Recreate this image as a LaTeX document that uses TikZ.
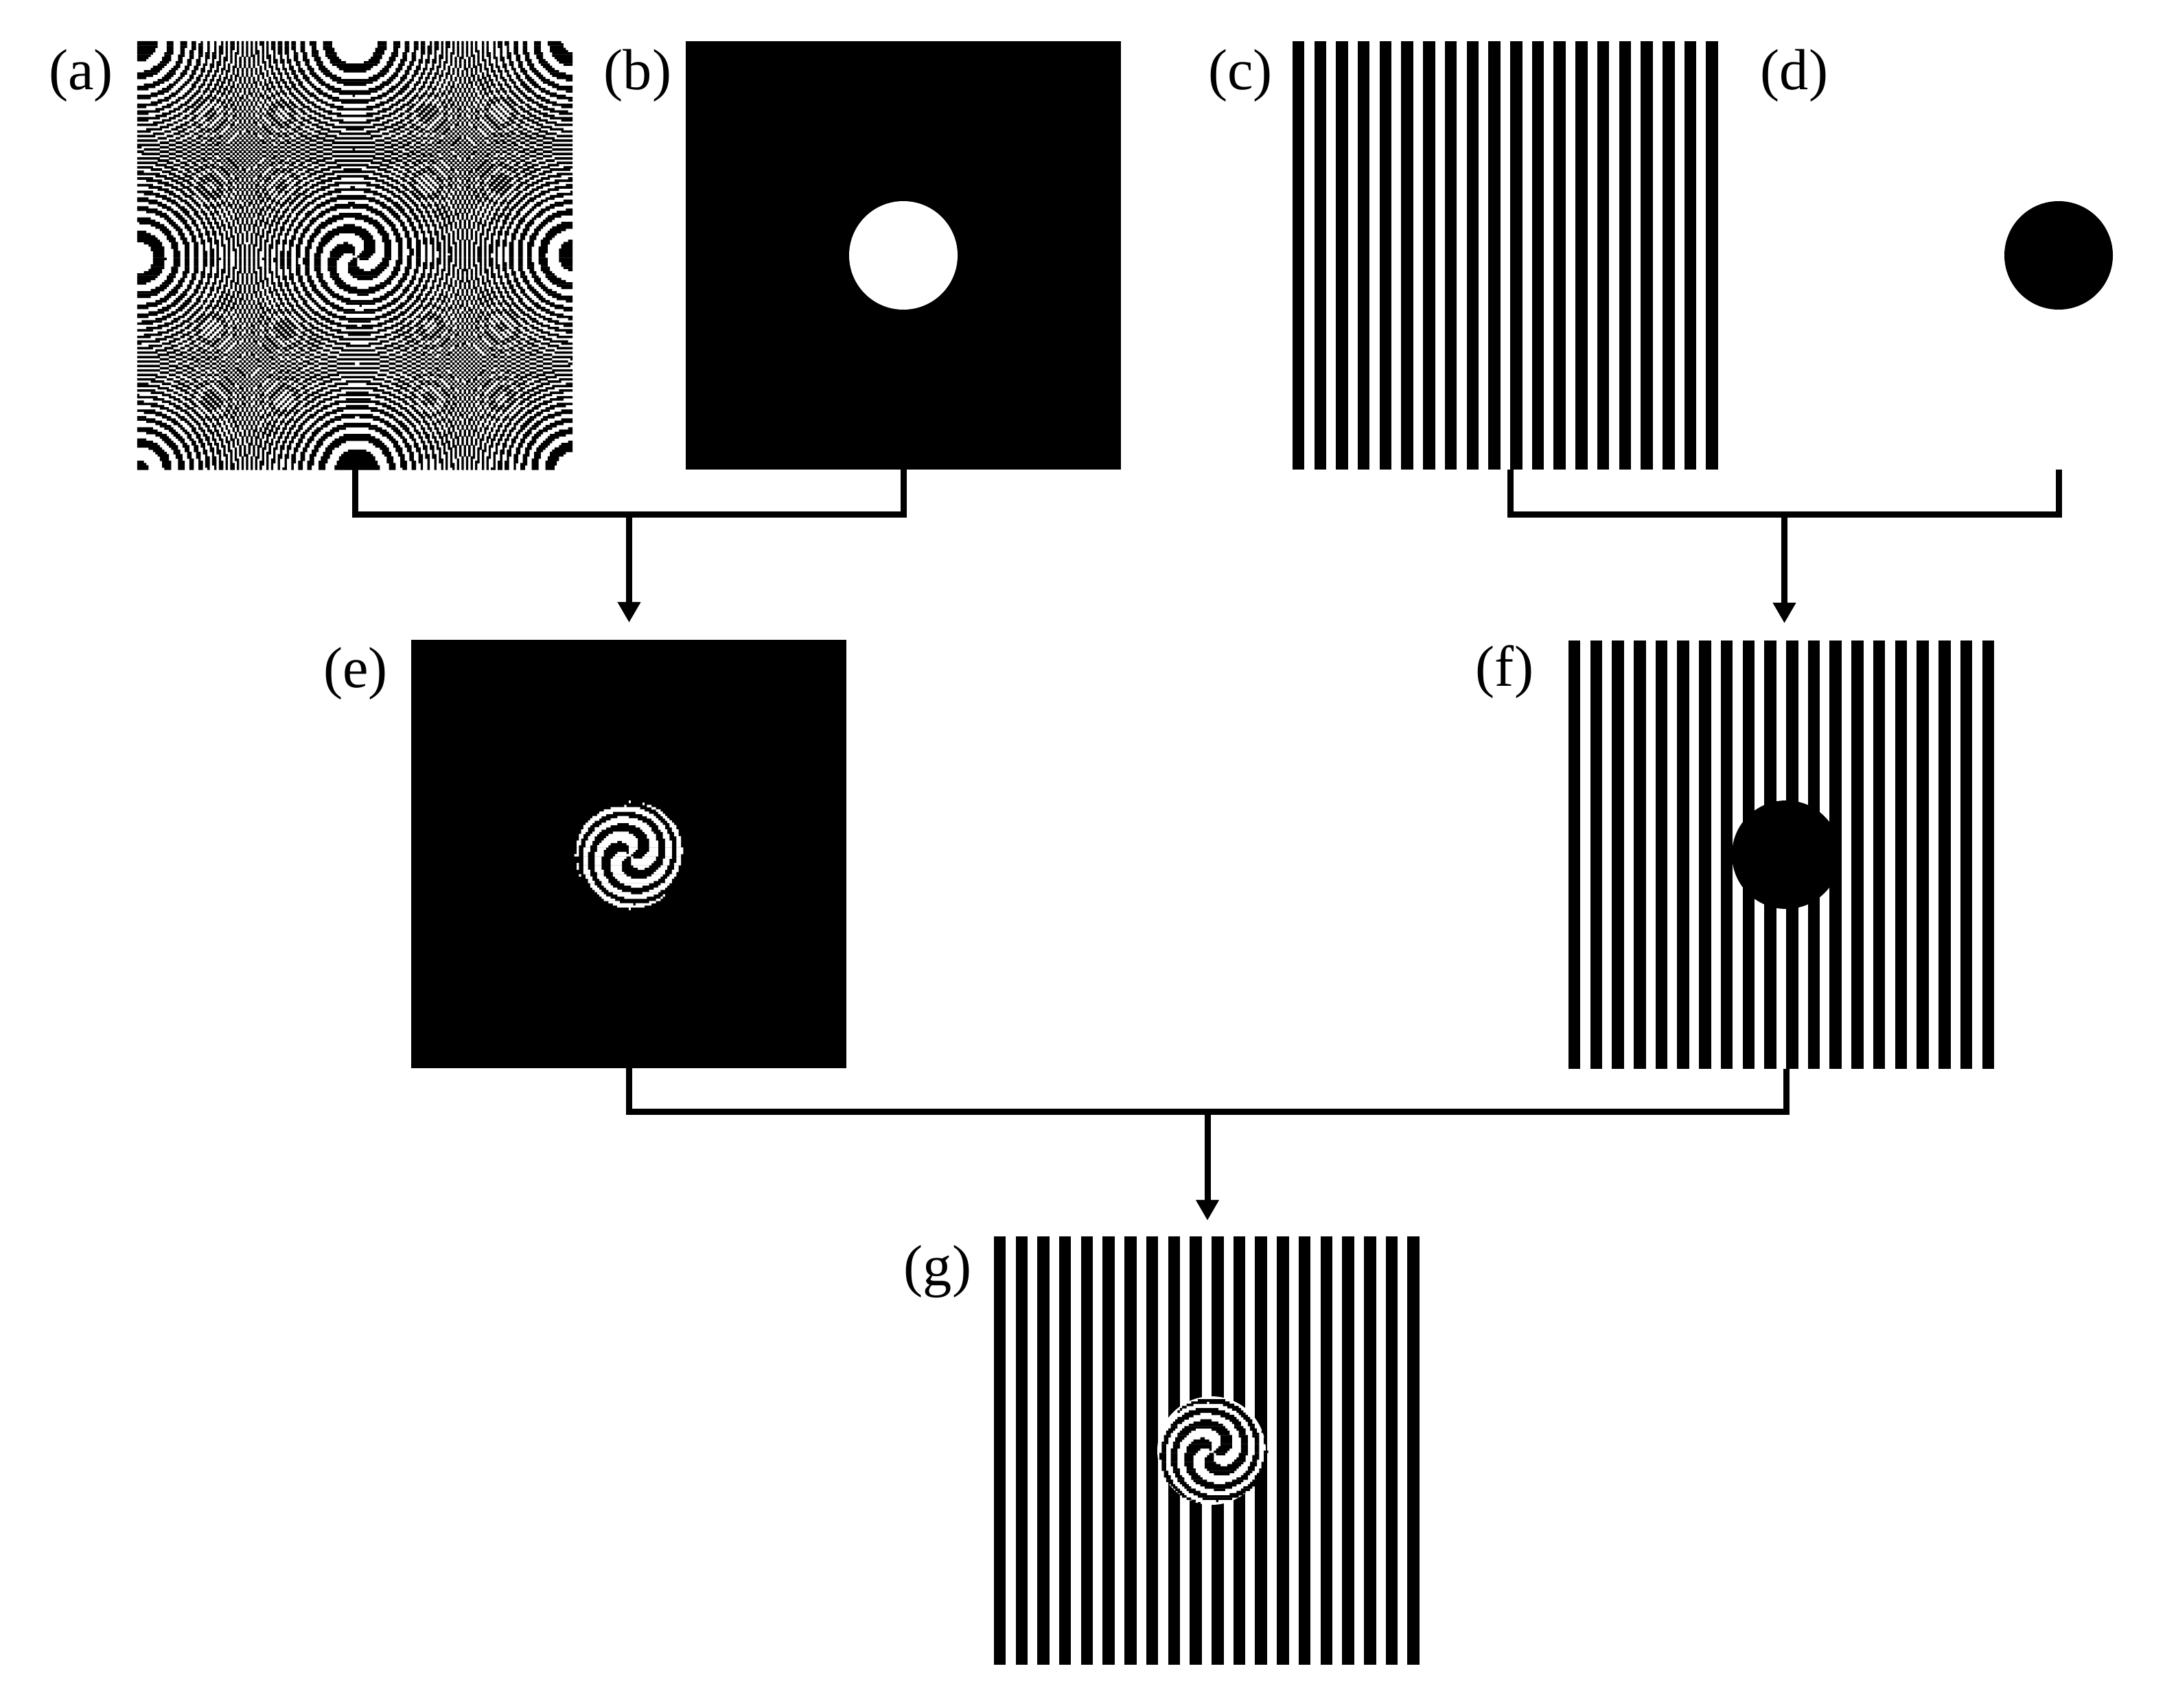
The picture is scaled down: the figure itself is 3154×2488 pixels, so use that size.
\documentclass[tikz,border=0pt]{standalone}
\usepackage{fontspec}
\setmainfont{Liberation Serif}
\usepackage{tikz}
\usetikzlibrary{arrows.meta,positioning,calc}

% binary spiral lens hologram, N x N cells
\newcount\hgi \newcount\hgj \newcount\hgu \newcount\hgv \newcount\hgvv
\newcount\hgq \newcount\hgm \newcount\hgre \newcount\hgim \newcount\hgval
\newcount\hgst \newcount\hgk \newcount\hgN \newcount\hgT
\newdimen\hgcw \newdimen\hgch
\newif\ifhgrun \newif\ifhgtgt
\hgN=192 \hgT=\numexpr4*\hgN\relax
\hgcw=\dimexpr6.34cm/\hgN\relax
\hgch=\dimexpr6.24cm/\hgN\relax
\def\hgoff{0}
\def\hgsgn{1}
\def\hgphase{0}
\def\hgrtwo{2000000}
\def\hgcmp{>0}

% cos/sin table of the lens phase
\pgfmathsetmacro\hgstep{360/\the\hgT}
\hgk=0
\loop
  \pgfmathsetcount\hgm{round(90*cos(\the\hgk*\hgstep+\hgphase))}%
  \expandafter\edef\csname hgc\the\hgk\endcsname{\the\hgm}%
  \pgfmathsetcount\hgm{round(90*sin(\the\hgk*\hgstep+\hgphase))}%
  \expandafter\edef\csname hgs\the\hgk\endcsname{\the\hgm}%
  \advance\hgk1
\ifnum\hgk<\hgT \repeat

\def\hgtest{%
  \hgu=\numexpr2*\hgi-\hgN+\hgoff\relax
  \hgq=\numexpr\hgu*\hgu+\hgvv\relax
  \hgtgtfalse
  \ifnum\hgq>\hgrtwo\relax\else
    \hgm=\numexpr\hgq-(\hgq/\hgT)*\hgT\relax
    \ifnum\hgm<0 \advance\hgm\hgT \fi
    \hgre=\numexpr(\hgu*\hgu-3*\hgvv)*\hgu\relax
    \hgim=\numexpr(3*\hgu*\hgu-\hgvv)*\hgv\relax
    \multiply\hgim\hgsgn\relax
    \hgval=\numexpr\hgre*\csname hgc\the\hgm\endcsname-\hgim*\csname hgs\the\hgm\endcsname\relax
    \ifnum\hgval\hgcmp\relax\hgtgttrue\fi
  \fi}
\def\hgrect{\pgfpathrectanglecorners
  {\pgfqpoint{\dimexpr\hgcw*\hgst\relax}{\dimexpr-\hgch*\hgj\relax}}%
  {\pgfqpoint{\dimexpr\hgcw*\hgi\relax}{\dimexpr-\hgch*\hgj-\hgch-0.1pt\relax}}}
\def\hgcell{%
  \ifnum\hgi<\hgN
    \hgtest
    \ifhgtgt
      \ifhgrun\else\hgst=\hgi\hgruntrue\fi
    \else
      \ifhgrun\hgrect\hgrunfalse\fi
    \fi
    \advance\hgi1
    \expandafter\hgcell
  \fi}
\def\hgrows{%
  \ifnum\hgj<\hgN
    \hgv=\numexpr2*\hgj-\hgN+\hgoff\relax
    \hgvv=\numexpr\hgv*\hgv\relax
    \hgi=0 \hgrunfalse
    \hgcell
    \ifhgrun\hgrect\hgrunfalse\fi
    \pgfusepath{fill}%
    \advance\hgj1
    \expandafter\hgrows
  \fi}
\newcommand\hologram{\hgj=0 \hgrows}

\begin{document}
\begin{tikzpicture}[
  x=0.01cm, y=-0.01cm,
  every node/.style={font=\fontsize{24}{28}\selectfont},
  panel/.style={minimum width=6.34cm, minimum height=6.24cm, inner sep=0pt, outer sep=0pt},
  wire/.style={line width=0.09cm},
  >={Triangle[width=0.32cm,length=0.3cm]}
]
\useasboundingbox (0,0) rectangle (3154,2488);
\fill[white] (0,0) rectangle (3154,2488);

% Panels (masks)
\node[panel] (pa) at (517,372) {};
\node[panel, fill=black] (pb) at (1316,372) {};
\node[panel] (pc) at (2200,372) {};
\node[panel] (pd) at (2999,372) {};
\node[panel, fill=black] (pe) at (916,1244) {};
\node[panel] (pf) at (2602,1245) {};
\node[panel] (pg) at (1765,2113) {};

% Labels
\node (la) at (118,110) {(a)};
\node (lb) at (929,110) {(b)};
\node (lc) at (1807,110) {(c)};
\node (ld) at (2614,110) {(d)};
\node (le) at (518,981) {(e)};
\node (lf) at (2192,979) {(f)};
\node (lg) at (1366,1852) {(g)};

% Gratings
\foreach \p in {pc,pf,pg}
  \foreach \k in {0,...,19}
    \fill ([xshift=\k*0.317cm]\p.north west) rectangle ++(17.5,624);

% Apertures
\fill[white] (pb.center) circle[radius=79];
\fill (pd.center) circle[radius=79];
\fill (pf.center) circle[radius=79];
\fill[white] (pg.center) circle[radius=79];

% Spiral holograms
\begin{scope}[shift={(pa.north west)}]
  \pgfsetfillcolor{black}\hologram
\end{scope}
\begin{scope}[shift={(pe.north west)}]
  \def\hgrtwo{2304}\def\hgcmp{<1}
  \pgfsetfillcolor{white}\hologram
\end{scope}
\begin{scope}[shift={(pg.north west)}]
  \def\hgrtwo{2304}
  \pgfsetfillcolor{black}\hologram
\end{scope}

% Connectors
\draw[wire] (pa.south) -- ++(0,65) -| (pb.south);
\draw[wire] (pc.south) -- ++(0,65) -| (pd.south);
\draw[wire] (pe.south) -- ++(0,63) -| (pf.south);
\coordinate (ab) at ($(pa.south)!.5!(pb.south)+(0,65)$);
\coordinate (cd) at ($(pc.south)!.5!(pd.south)+(0,65)$);
\coordinate (ef) at ($(pe.south)!.5!(pf.south)+(0,63)$);
\draw[wire,->,shorten >=0.25cm] (ab) -- (ab |- pe.north);
\draw[wire,->,shorten >=0.25cm] (cd) -- (cd |- pf.north);
\draw[wire,->,shorten >=0.23cm] (ef) -- (ef |- pg.north);

\end{tikzpicture}
\end{document}
